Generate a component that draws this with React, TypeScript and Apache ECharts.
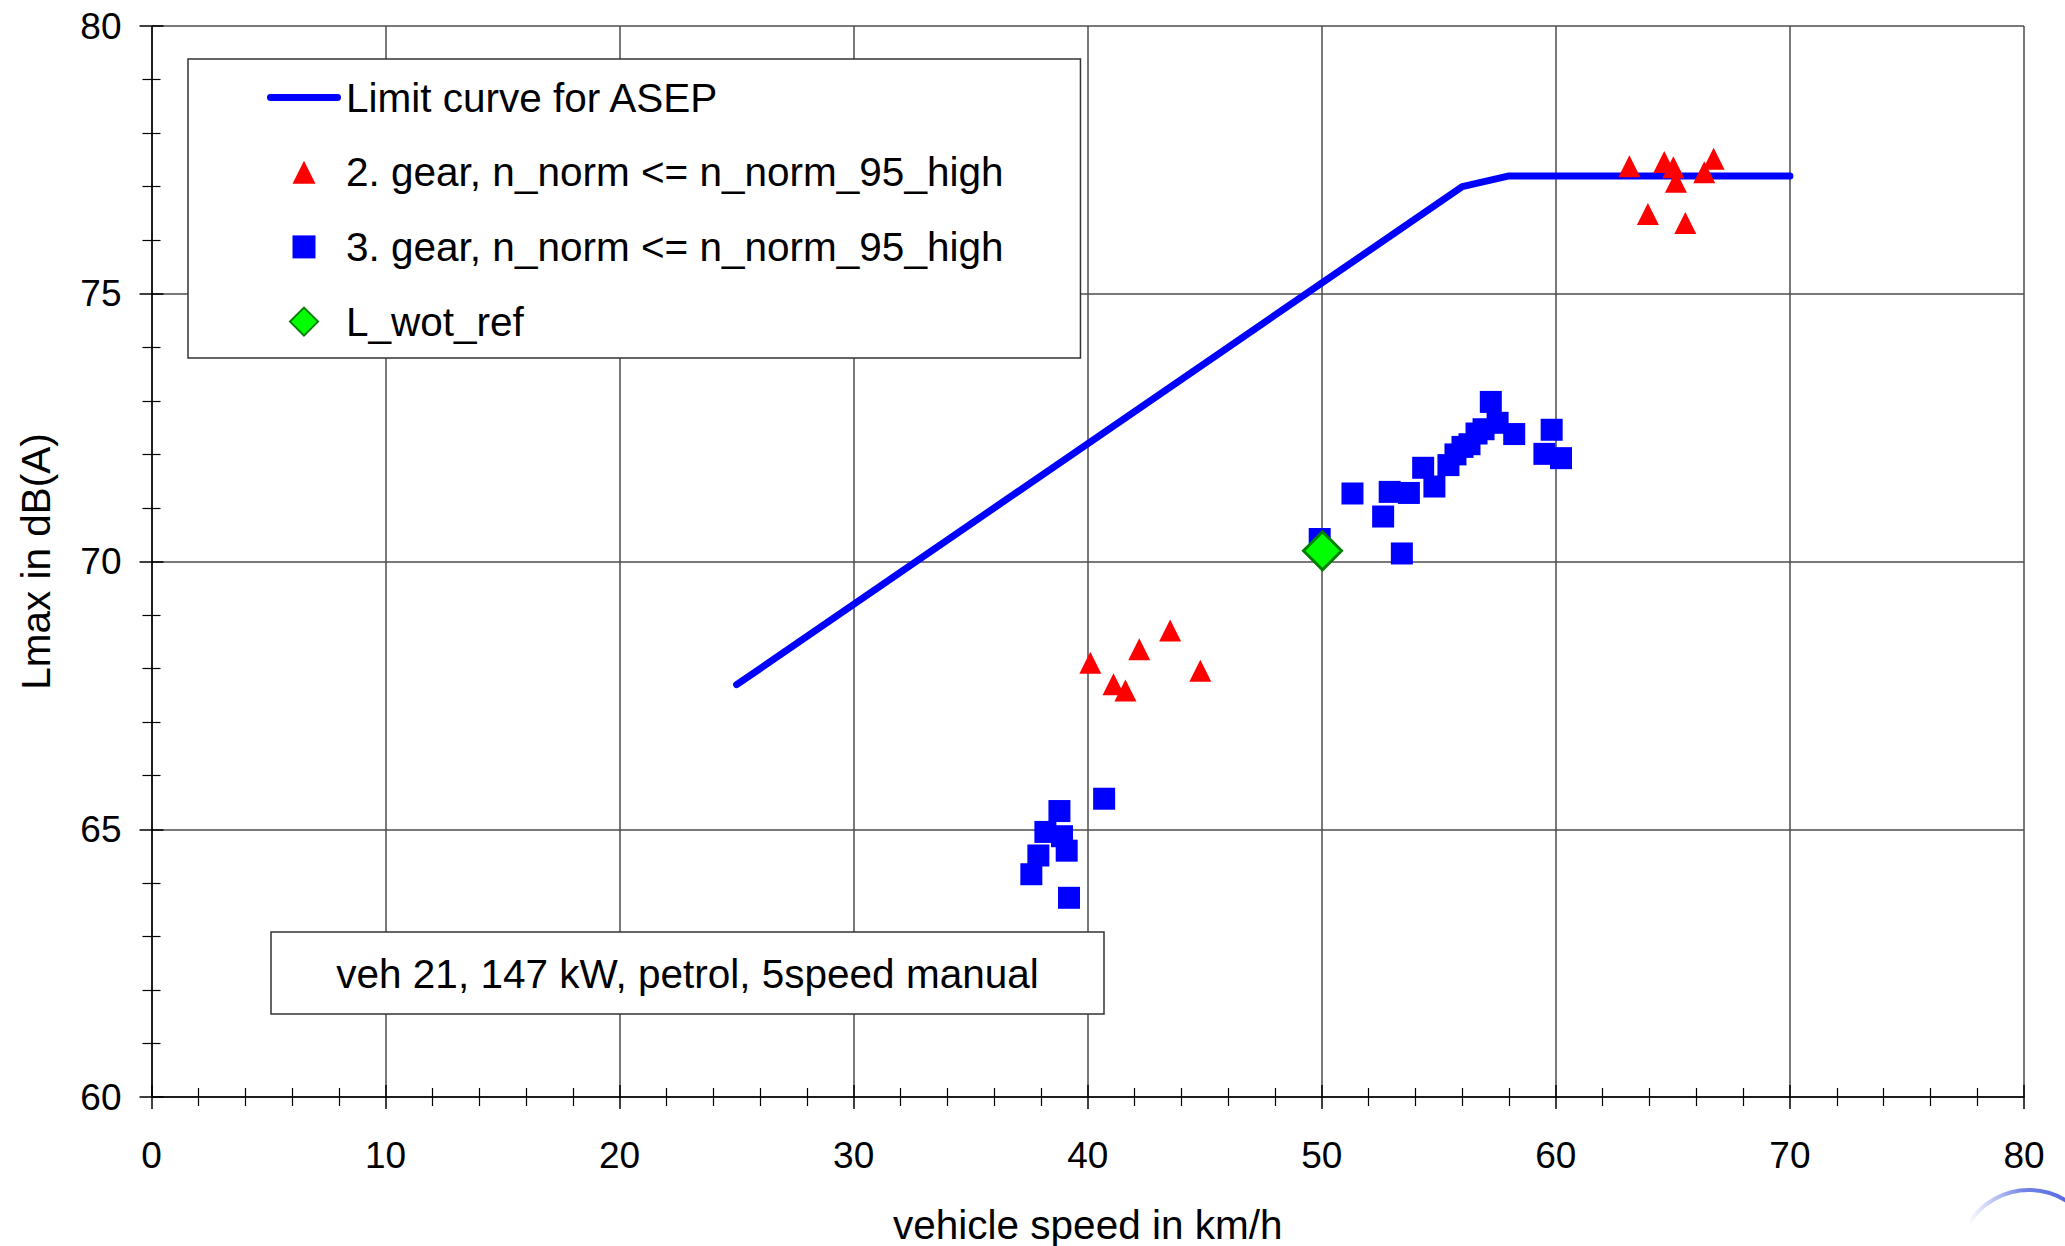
import React, { useEffect, useRef } from "react";
import * as echarts from "echarts";

const limitCurve: [number, number][] = [
  [25, 67.7],
  [56, 77.0],
  [58, 77.2],
  [70, 77.2],
];

const gear2: [number, number][] = [
  [40.11, 68.11],
  [41.1, 67.71],
  [41.61, 67.59],
  [42.2, 68.36],
  [43.52, 68.71],
  [44.81, 67.96],
  [63.14, 77.38],
  [64.63, 77.46],
  [65.02, 77.36],
  [65.13, 77.09],
  [63.93, 76.49],
  [65.53, 76.32],
  [66.34, 77.27],
  [66.74, 77.52],
];

const gear3: [number, number][] = [
  [38.79, 65.34],
  [38.19, 64.95],
  [38.9, 64.87],
  [39.1, 64.6],
  [37.89, 64.51],
  [37.59, 64.16],
  [39.2, 63.72],
  [40.7, 65.57],
  [49.91, 70.42],
  [51.31, 71.27],
  [52.62, 70.84],
  [52.9, 71.3],
  [53.42, 70.15],
  [53.72, 71.28],
  [54.33, 71.75],
  [54.81, 71.4],
  [55.41, 71.8],
  [55.71, 72.0],
  [56.01, 72.14],
  [56.31, 72.19],
  [56.61, 72.39],
  [56.91, 72.47],
  [57.22, 72.98],
  [57.51, 72.59],
  [58.22, 72.38],
  [59.82, 72.46],
  [59.51, 72.01],
  [60.22, 71.93],
];

const wotRef: [number, number][] = [[50.03, 70.2]];

const seriesNames = [
  "Limit curve for ASEP",
  "2. gear, n_norm <= n_norm_95_high",
  "3. gear, n_norm <= n_norm_95_high",
  "L_wot_ref",
];

const xAxisName = "vehicle speed in km/h";
const yAxisName = "Lmax in dB(A)";
const infoText = "veh 21, 147 kW, petrol, 5speed manual";

const FONT = "'Liberation Sans', Arial, Helvetica, sans-serif";

// legend icons (drawn in a 28x28 frame so that the marker keeps its own size)
const lineIcon = "path://M3.5,0 L71.5,0 A3.5,3.5 0 0 1 71.5,7 L3.5,7 A3.5,3.5 0 0 1 3.5,0 Z";
const triIcon = "path://M0,0 M28,28 M14,2.5 L25.5,25.5 L2.5,25.5 Z";
const rectIcon = "path://M0,0 M28,28 M2.5,2.5 L25.5,2.5 L25.5,25.5 L2.5,25.5 Z";
const diaIcon = "path://M14,0 L28,14 L14,28 L0,14 Z";

export default function App() {
  const ref = useRef<HTMLDivElement>(null);

  useEffect(() => {
    document.body.style.margin = "0";
    if (!ref.current) return;
    const chart = echarts.init(ref.current, undefined, { renderer: "svg" });

    const tickLine = { color: "#000", width: 1.5 };
    const baseX = {
      type: "value",
      min: 0,
      max: 80,
      interval: 10,
      position: "bottom",
    };
    const baseY = {
      type: "value",
      min: 60,
      max: 80,
      interval: 5,
      position: "left",
    };

    chart.setOption({
      animation: false,
      backgroundColor: "#fff",
      textStyle: { fontFamily: FONT },
      grid: {
        left: 151.5,
        top: 26,
        width: 1872.5,
        height: 1071,
        containLabel: false,
        outerBoundsMode: "none",
      },
      xAxis: [
        {
          ...baseX,
          name: xAxisName,
          nameLocation: "middle",
          nameGap: 107,
          nameTextStyle: { fontSize: 40.5, color: "#000", fontFamily: FONT },
          axisLine: { show: true, lineStyle: tickLine },
          axisTick: { show: true, inside: true, length: 12, lineStyle: tickLine },
          minorTick: { show: true, splitNumber: 5, length: 9, lineStyle: { color: "#000", width: 1.2 } },
          axisLabel: { fontSize: 37, color: "#000", margin: 40, fontFamily: FONT },
          splitLine: { show: true, lineStyle: { color: "#4d4d4d", width: 1.5 } },
        },
        {
          ...baseX,
          axisLine: { show: false },
          axisTick: { show: true, inside: false, length: 12, lineStyle: tickLine },
          minorTick: { show: true, splitNumber: 5, length: 9, lineStyle: { color: "#000", width: 1.2 } },
          axisLabel: { show: false },
          splitLine: { show: false },
        },
      ],
      yAxis: [
        {
          ...baseY,
          name: yAxisName,
          nameLocation: "middle",
          nameGap: 95,
          nameRotate: 90,
          nameTextStyle: { fontSize: 40.5, color: "#000", fontFamily: FONT },
          axisLine: { show: true, lineStyle: tickLine },
          axisTick: { show: true, inside: true, length: 12, lineStyle: tickLine },
          minorTick: { show: true, splitNumber: 5, length: 9, lineStyle: { color: "#000", width: 1.2 } },
          axisLabel: { fontSize: 37, color: "#000", margin: 30, fontFamily: FONT },
          splitLine: { show: true, lineStyle: { color: "#4d4d4d", width: 1.5 } },
        },
        {
          ...baseY,
          axisLine: { show: false },
          axisTick: { show: true, inside: false, length: 12, lineStyle: tickLine },
          minorTick: { show: true, splitNumber: 5, length: 9, lineStyle: { color: "#000", width: 1.2 } },
          axisLabel: { show: false },
          splitLine: { show: false },
        },
      ],
      legend: {
        show: true,
        orient: "vertical",
        left: 188,
        top: 59,
        padding: [18, 77, 16, 79],
        itemWidth: 74,
        itemHeight: 28,
        itemGap: 33.7,
        symbolKeepAspect: true,
        backgroundColor: "#fff",
        borderColor: "#333",
        borderWidth: 1.5,
        borderRadius: 0,
        textStyle: { fontSize: 40.5, color: "#000", fontFamily: FONT },
        data: [
          { name: seriesNames[0], icon: lineIcon, itemStyle: { color: "#0000ff" } },
          { name: seriesNames[1], icon: triIcon, itemStyle: { color: "#ff0000" } },
          { name: seriesNames[2], icon: rectIcon, itemStyle: { color: "#0000ff" } },
          {
            name: seriesNames[3],
            icon: diaIcon,
            itemStyle: { color: "#00ff00", borderColor: "#008000", borderWidth: 2 },
          },
        ],
        selectedMode: false,
      },
      series: [
        {
          name: seriesNames[0],
          type: "line",
          data: limitCurve,
          symbol: "none",
          lineStyle: { color: "#0000ff", width: 7, cap: "round", join: "round" },
          itemStyle: { color: "#0000ff" },
          z: 2,
        },
        {
          name: seriesNames[1],
          type: "scatter",
          data: gear2,
          symbol: "triangle",
          symbolSize: 22,
          itemStyle: { color: "#ff0000", opacity: 1 },
          z: 3,
        },
        {
          name: seriesNames[2],
          type: "scatter",
          data: gear3,
          symbol: "rect",
          symbolSize: 22,
          itemStyle: { color: "#0000ff", opacity: 1 },
          z: 4,
        },
        {
          name: seriesNames[3],
          type: "scatter",
          data: wotRef,
          symbol: "diamond",
          symbolSize: 38,
          itemStyle: { color: "#00ff00", borderColor: "#008000", borderWidth: 3, opacity: 1 },
          z: 5,
        },
      ],
      graphic: [
        {
          type: "rect",
          z: 10,
          shape: { x: 271, y: 932, width: 833, height: 82 },
          style: { fill: "#fff", stroke: "#333", lineWidth: 1.5 },
        },
        {
          type: "text",
          z: 11,
          x: 687.5,
          y: 974,
          style: {
            text: infoText,
            fill: "#000",
            font: `40.5px ${FONT}`,
            align: "center",
            verticalAlign: "middle",
          },
        },
        {
          type: "arc",
          z: 1,
          shape: { cx: 2028.8, cy: 1260.4, r: 70.4, startAngle: 3.67, endAngle: 5.8, clockwise: true },
          style: {
            fill: "none",
            lineWidth: 4,
            stroke: new echarts.graphic.LinearGradient(0, 0, 1, 0, [
              { offset: 0, color: "rgba(90,110,225,0)" },
              { offset: 0.45, color: "rgba(90,110,225,0.85)" },
              { offset: 1, color: "rgba(70,90,220,1)" },
            ]),
          },
        },
      ],
    });

    return () => chart.dispose();
  }, []);

  return <div ref={ref} style={{ width: 2065, height: 1246 }} />;
}
